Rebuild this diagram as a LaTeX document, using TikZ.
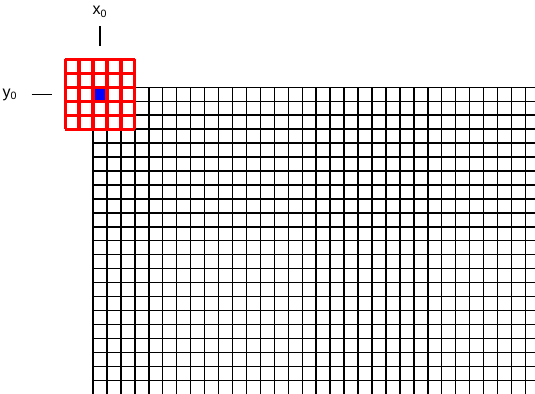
\documentclass[tikz,border=0pt]{standalone}
\usepackage{fontspec}
\setmainfont{Liberation Sans}
\usetikzlibrary{positioning}

\begin{document}
\begin{tikzpicture}[
    x=0.75pt, y=-0.75pt,
    cellline/.style={draw=black, line width=1.1pt},
    maskline/.style={draw=red, line width=2.4pt},
    tick/.style={draw=black, line width=0.9pt},
    lbl/.style={font=\fontsize{12}{14}\selectfont, inner sep=0pt},
  ]
  \useasboundingbox (0,0) rectangle (535,393);
  \clip (0,0) rectangle (535,393);

  % image grid
  \foreach \i in {0,...,31}
    \draw[cellline] ({93+13.95*\i},87.3) -- ({93+13.95*\i},400);
  \foreach \j in {0,...,21}
    \draw[cellline] (93,{87.3+13.95*\j}) -- (540,{87.3+13.95*\j});

  % centre pixel
  \fill[blue] (93,87.3) rectangle (106.95,101.25);

  % 5x5 window
  \foreach \k in {0,...,5} {
    \draw[maskline] ({65.1+13.95*\k},59.4) -- ({65.1+13.95*\k},129.15);
    \draw[maskline] (65.1,{59.4+13.95*\k}) -- (134.85,{59.4+13.95*\k});
  }

  % labels
  \node[lbl] (xlab) at (100,12) {x\textsubscript{0}};
  \node[lbl] (ylab) at (10,95) {y\textsubscript{0}};
  \coordinate (xtop) at (100,26);
  \coordinate (xbot) at (100,45.5);
  \coordinate (yleft) at (31.5,94.7);
  \coordinate (yright) at (51.5,94.7);
  \draw[tick] (xtop) -- (xbot);
  \draw[tick] (yleft) -- (yright);

\end{tikzpicture}
\end{document}
